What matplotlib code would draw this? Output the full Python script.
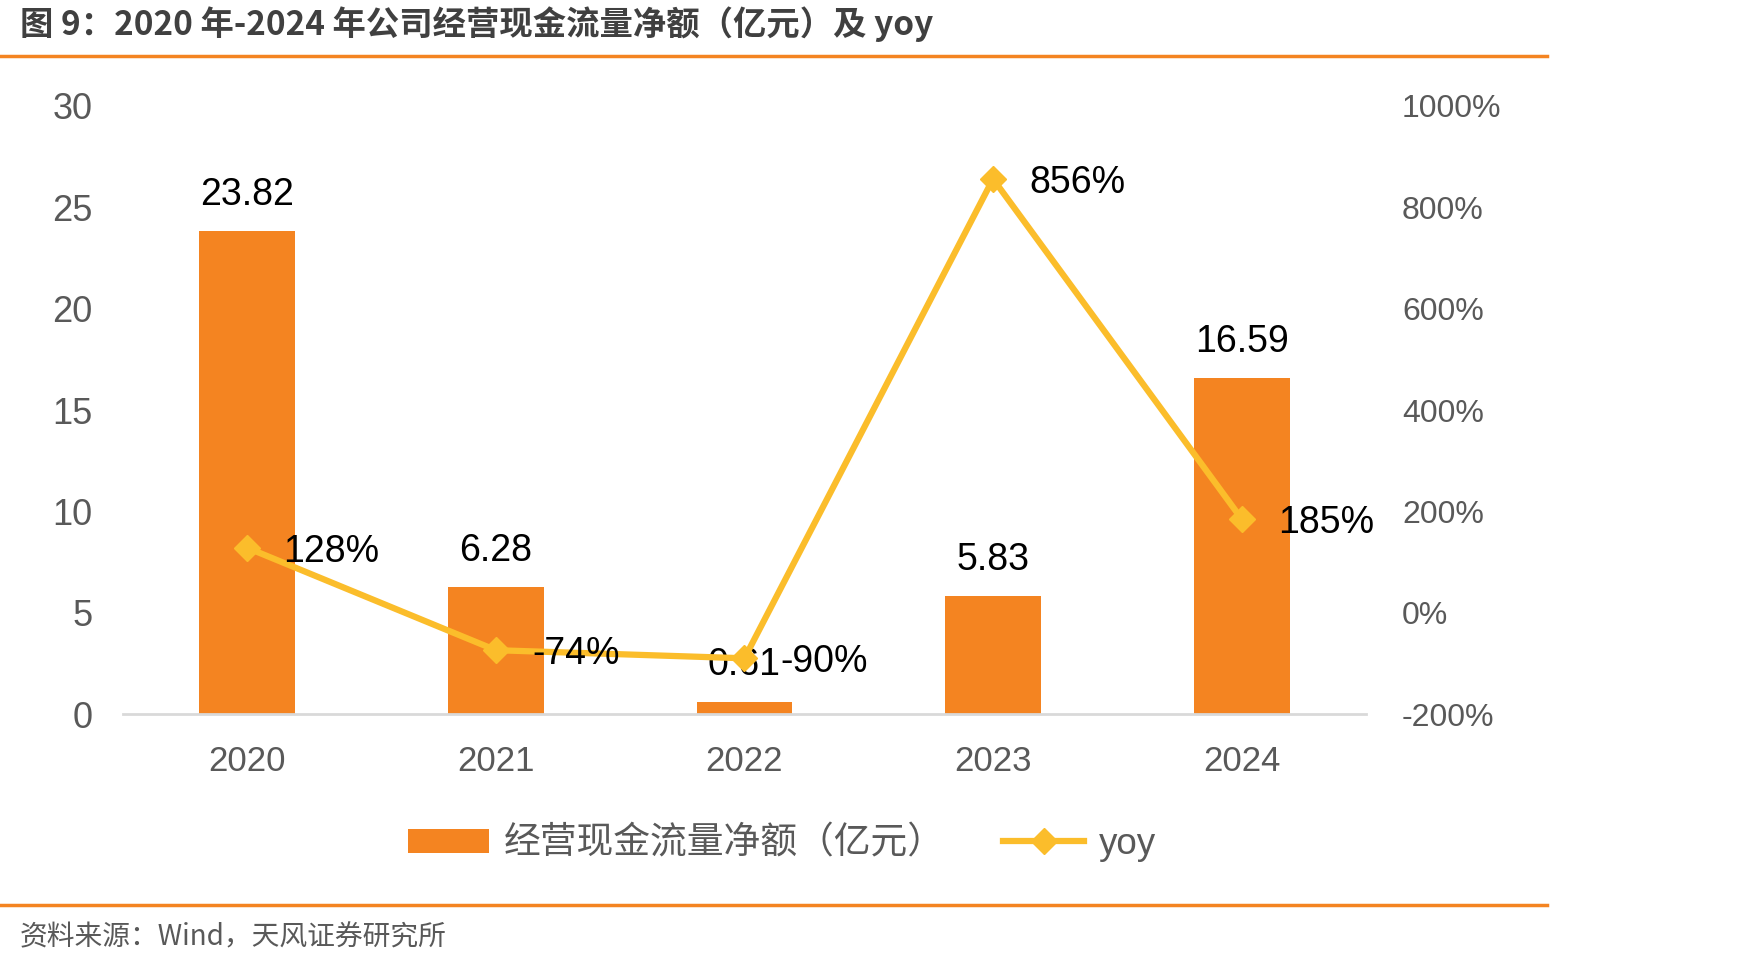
import matplotlib
matplotlib.use("Agg")
import matplotlib.pyplot as plt
from matplotlib.lines import Line2D
from matplotlib.patches import Patch

plt.rcParams['font.family'] = ['Liberation Sans', 'Noto Sans CJK SC', 'DejaVu Sans']

years = ["2020", "2021", "2022", "2023", "2024"]
cash_flow = [23.82, 6.28, 0.61, 5.83, 16.59]
yoy = [128, -74, -90, 856, 185]
left_ticks = [0, 5, 10, 15, 20, 25, 30]
right_ticks = [-200, 0, 200, 400, 600, 800, 1000]

BAR = "#F48421"
LINE = "#FBBD2B"
GRAY = "#595959"

fig = plt.figure(figsize=(17.49, 9.67), dpi=100)
ax = fig.add_axes([0.0703, 0.2616, 0.7107, 0.6288])
ax2 = ax.twinx()

x = list(range(len(years)))
ax.bar(x, cash_flow, width=0.385, color=BAR, zorder=2)
ax.set_xlim(-0.5, 4.5)
ax.set_ylim(0, 30)
ax.set_yticks(left_ticks)
ax.set_yticklabels([str(t) for t in left_ticks], fontsize=26, color=GRAY)
ax.set_xticks(x)
ax.set_xticklabels(years, fontsize=25, color=GRAY)
ax.tick_params(axis='both', length=0)
ax.tick_params(axis='x', pad=22)
ax.tick_params(axis='y', pad=22)
for s in ['top', 'left', 'right']:
    ax.spines[s].set_visible(False)
ax.spines['bottom'].set_color('#D9D9D9')
ax.spines['bottom'].set_linewidth(2)

for xi, v in zip(x, cash_flow):
    ax.text(xi, v + 0.9, f"{v:.2f}", ha='center', va='bottom', fontsize=27, color='black')

ax2.plot(x, yoy, color=LINE, lw=4.5, marker='D', markersize=13, zorder=3)
ax2.set_ylim(-200, 1000)
ax2.set_yticks(right_ticks)
ax2.set_yticklabels([f"{t}%" for t in right_ticks], fontsize=23, color=GRAY)
ax2.tick_params(axis='y', length=0, pad=26)
for s in ['top', 'left', 'right', 'bottom']:
    ax2.spines[s].set_visible(False)
for xi, v in zip(x, yoy):
    ax2.annotate(f"{v}%", (xi, v), xytext=(26, 0), textcoords='offset points',
                 ha='left', va='center_baseline', fontsize=27, color='black')

# legend
handles = [Patch(facecolor=BAR, edgecolor='none'),
           Line2D([0], [0], color=LINE, lw=4.5, marker='D', markersize=13)]
fig.legend(handles, ["经营现金流量净额（亿元）", "yoy"], loc='center',
           bbox_to_anchor=(0.447, 0.127), ncol=2, frameon=False,
           fontsize=26.5, labelcolor=GRAY, handlelength=2.2, handleheight=0.65,
           columnspacing=1.6, handletextpad=0.4)

# title and rules
fig.text(0.0114, 0.975, "图 9：2020 年-2024 年公司经营现金流量净额（亿元）及 yoy",
         ha='left', va='center', fontsize=24, fontweight='bold', color='#404040',
         family=['Noto Sans CJK SC', 'DejaVu Sans'])
fig.add_artist(Line2D([0, 0.8845], [0.942, 0.942], transform=fig.transFigure,
                      color=BAR, lw=2.5))
fig.add_artist(Line2D([0, 0.8845], [0.064, 0.064], transform=fig.transFigure,
                      color=BAR, lw=2.5))
fig.text(0.0114, 0.031, "资料来源：Wind，天风证券研究所", ha='left', va='center',
         fontsize=20, color=GRAY, family=['Noto Sans CJK SC', 'DejaVu Sans'])

fig.savefig("out.png", dpi=100)
